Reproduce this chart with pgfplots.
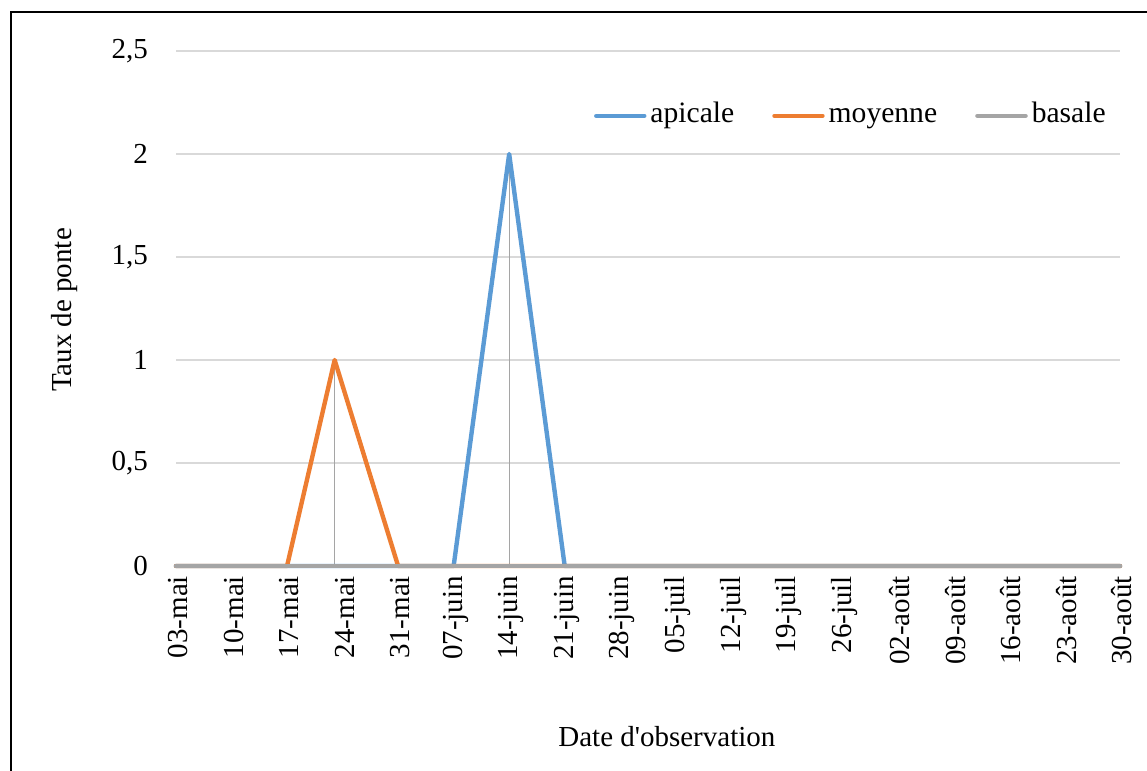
\documentclass[border=0pt]{standalone}
\usepackage{pgfplots}
\pgfplotsset{compat=1.18}
\usepackage{pgfplotstable}
\usepackage{fontspec}
\setmainfont{Liberation Serif}
\definecolor{cBlue}{HTML}{5B9BD5}
\definecolor{cOrange}{HTML}{ED7D31}
\definecolor{cGray}{HTML}{A5A5A5}
\definecolor{cGrid}{HTML}{D9D9D9}
% day 0 = 03-mai
\pgfplotstableread{
x apicale moyenne basale maxv
0 0 0 0 0
7 0 0 0 0
14 0 0 0 0
20 0 1 0 1
28 0 0 0 0
35 0 0 0 0
42 2 0 0 2
49 0 0 0 0
56 0 0 0 0
63 0 0 0 0
70 0 0 0 0
77 0 0 0 0
84 0 0 0 0
91 0 0 0 0
98 0 0 0 0
105 0 0 0 0
112 0 0 0 0
119 0 0 0 0
}\data
\begin{document}
\fontsize{14.5}{17}\selectfont
\begin{tikzpicture}
\begin{axis}[
  at={(88pt,-283pt)}, anchor=south west,
  scale only axis, width=472pt, height=257.5pt,
  xmin=0, xmax=119, ymin=0, ymax=2.5,
  clip=false,
  axis line style={draw=none},
  major tick length=0pt,
  xtick={0,7,...,119},
  xticklabels={03-mai,10-mai,17-mai,24-mai,31-mai,07-juin,14-juin,21-juin,28-juin,05-juil,12-juil,19-juil,26-juil,02-août,09-août,16-août,23-août,30-août},
  xticklabel style={rotate=90, anchor=east, yshift=-1pt},
  ytick={0,0.5,1,1.5,2,2.5},
  yticklabels={0,{0,5},1,{1,5},2,{2,5}},
  yticklabel style={xshift=-9pt},
  ymajorgrids, grid style={cGrid, line width=0.75pt},
  xlabel={Date d\textquotesingle observation},
  xlabel style={at={(axis description cs:0.52,-0.332)}, anchor=center},
  ylabel={Taux de ponte},
  ylabel style={at={(axis description cs:-0.1176,0.497)}, anchor=center, rotate=0},
  legend style={draw=none, fill=none, at={(axis description cs:0.716,0.874)}, anchor=center,
    column sep=0pt, /tikz/every even column/.append style={column sep=17pt},
    nodes={text height=10pt, text depth=3pt, inner xsep=2pt},
    font=\fontsize{14.8}{17}\selectfont},
  legend columns=3,
  legend image code/.code={\draw[#1, line cap=round] (0pt,0pt) -- (24pt,0pt);},
]
\addplot[ycomb, cGray, line width=0.6pt, forget plot] table[x=x, y=maxv] {\data};
\addplot[cBlue, line width=2.2pt, line cap=round, line join=round] table[x=x, y=apicale] {\data};
\addlegendentry{apicale}
\addplot[cOrange, line width=2.2pt, line cap=round, line join=round] table[x=x, y=moyenne] {\data};
\addlegendentry{moyenne}
\addplot[cGray, line width=2.3pt, line cap=round, line join=round] table[x=x, y=basale] {\data};
\addlegendentry{basale}
\end{axis}
\draw[black, line width=0.75pt] (5.5pt,-400pt) -- (5.5pt,-6pt) -- (600pt,-6pt);
\pgfresetboundingbox
\path[use as bounding box] (0pt,0pt) rectangle (573.5pt,-385.5pt);
\end{tikzpicture}
\end{document}
